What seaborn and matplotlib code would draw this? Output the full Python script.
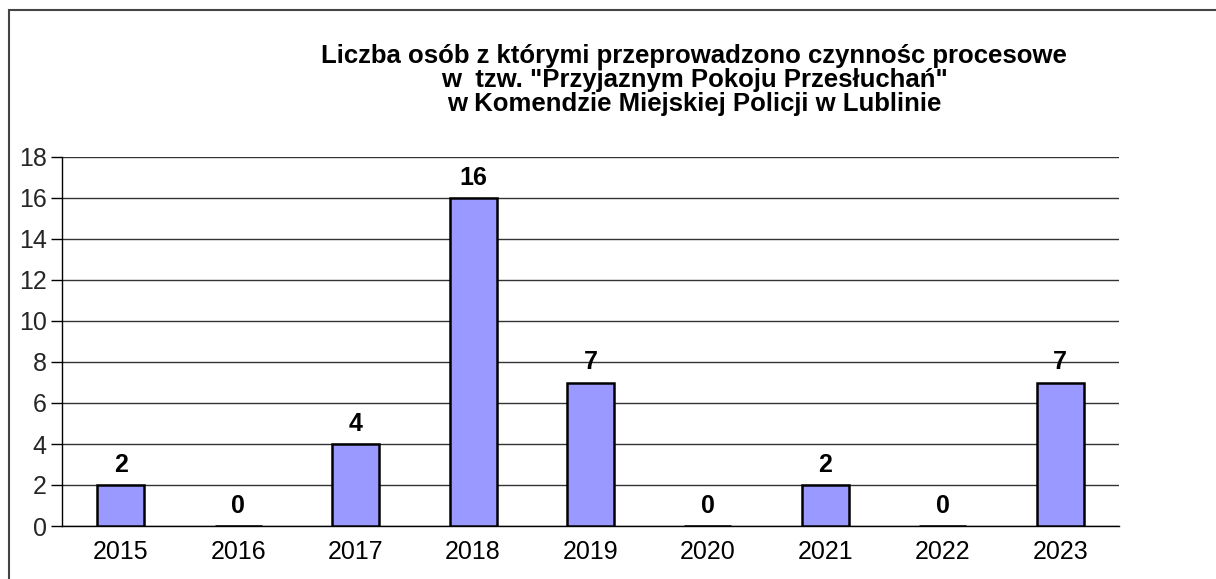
import pandas as pd
import matplotlib.pyplot as plt
import matplotlib.patches as patches
import seaborn as sns

sns.set_theme(style="white")
plt.rcParams['font.family'] = ['Liberation Sans', 'DejaVu Sans']

# Data
years = ['2015', '2016', '2017', '2018', '2019', '2020', '2021', '2022', '2023']
counts = [2, 0, 4, 16, 7, 0, 2, 0, 7]
title_lines = [
    'Liczba osób z którymi przeprowadzono czynnośc procesowe',
    'w  tzw. "Przyjaznym Pokoju Przesłuchań"',
    'w Komendzie Miejskiej Policji w Lublinie',
]

df = pd.DataFrame({'Rok': years, 'Liczba': counts})

fig = plt.figure(figsize=(12.16, 5.79), dpi=100)
ax = fig.add_axes([62 / 1216, 1 - 526 / 579, (1119 - 62) / 1216, (526 - 157) / 579])

sns.barplot(data=df, x='Rok', y='Liczba', color='#9999FF', width=0.4,
            edgecolor='black', linewidth=1.8, saturation=1, ax=ax, zorder=3)

ax.set_ylim(0, 18)
ax.set_xlim(-0.5, len(years) - 0.5)
ax.set_yticks(range(0, 19, 2))
ax.yaxis.grid(True, color='#333333', linewidth=1)
ax.set_axisbelow(True)

# ticks between categories on the x axis
ax.set_xticks([i - 0.5 for i in range(len(years) + 1)], minor=True)
ax.tick_params(axis='x', which='major', length=0, pad=10, labelsize=18, colors='black')
ax.tick_params(axis='x', which='minor', length=8, width=1, color='black', direction='out')
ax.tick_params(axis='y', length=8, width=1, color='black', direction='out',
               labelsize=18, pad=3, left=True)

for side in ['top', 'right']:
    ax.spines[side].set_visible(False)
for side in ['left', 'bottom']:
    ax.spines[side].set_color('black')
    ax.spines[side].set_linewidth(1)

ax.set_xlabel('')
ax.set_ylabel('')

# value labels
for i, v in enumerate(counts):
    ax.annotate(str(v), (i, v), xytext=(0, 9.5), textcoords='offset points',
                ha='center', va='baseline', fontsize=18, fontweight='bold', color='black')

fig.text(694 / 1216, 1 - 44 / 579, '\n'.join(title_lines), ha='center', va='top',
         fontsize=18.5, fontweight='bold', linespacing=0.99, color='black')

# outer frame
fig.patches.append(patches.Rectangle((9 / 1216, -0.05), 1.1, 1 - 10 / 579 + 0.05,
                                     transform=fig.transFigure, fill=False,
                                     edgecolor='#444444', linewidth=1.5))

plt.savefig('out.png', dpi=100)
